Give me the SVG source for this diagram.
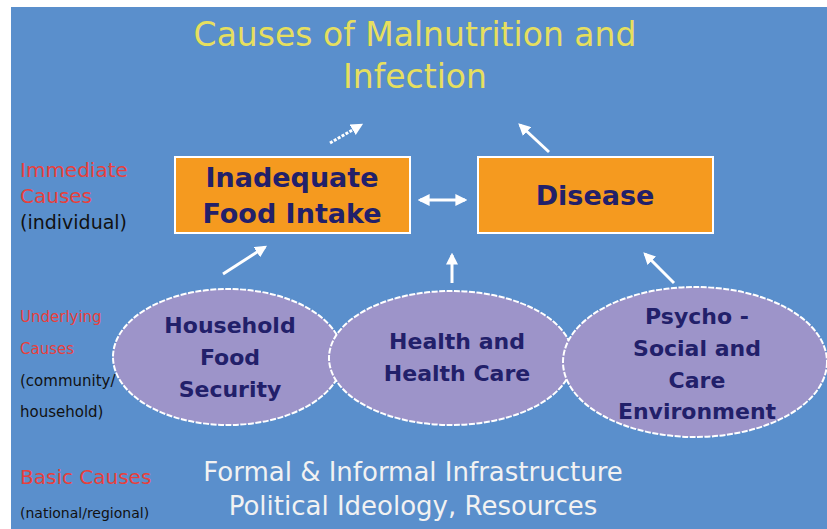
<svg xmlns="http://www.w3.org/2000/svg" width="827" height="529" viewBox="0 0 827 529">
<defs>
<style>
.title{font-family:"DejaVu Sans","Liberation Sans",sans-serif;font-size:33px;fill:#e6df5e;text-anchor:middle}
.box{fill:#f59a1f;stroke:#ffffff;stroke-width:2}
.boxt{font-family:"DejaVu Sans","Liberation Sans",sans-serif;font-weight:bold;font-size:27px;fill:#22206a;text-anchor:middle}
.ell{fill:#9d94c9;stroke:#ffffff;stroke-width:2;stroke-dasharray:6 1.5}
.ellt{font-family:"DejaVu Sans","Liberation Sans",sans-serif;font-weight:bold;font-size:22px;fill:#22206a;text-anchor:middle}
.red{font-family:"DejaVu Sans","Liberation Sans",sans-serif;fill:#e8403c}
.blk{font-family:"DejaVu Sans","Liberation Sans",sans-serif;fill:#111111}
.basic{font-family:"DejaVu Sans","Liberation Sans",sans-serif;font-size:26px;fill:#f2f2f2;text-anchor:middle}
.arr{stroke:#ffffff;stroke-width:3;fill:none}
</style>
<marker id="ah" viewBox="0 0 10 10" refX="8" refY="5" markerWidth="4" markerHeight="4" orient="auto-start-reverse">
<path d="M0,0 L10,5 L0,10 z" fill="#ffffff"/>
</marker>
</defs>
<rect x="0" y="0" width="827" height="529" fill="#ffffff"/>
<rect x="11" y="7" width="816" height="522" fill="#5a8fcc"/>
<g id="title">
<text class="title" x="415" y="46">Causes of Malnutrition and</text>
<text class="title" x="415" y="88">Infection</text>
</g>
<g id="labels">
<text class="red" x="20" y="177" font-size="20">Immediate</text>
<text class="red" x="20" y="203" font-size="20">Causes</text>
<text class="blk" x="20" y="229" font-size="19">(individual)</text>
<text class="red" x="20" y="322" font-size="15">Underlying</text>
<text class="red" x="20" y="354" font-size="15">Causes</text>
<text class="blk" x="20" y="386" font-size="15">(community/</text>
<text class="blk" x="20" y="417" font-size="15">household)</text>
<text class="red" x="20" y="484" font-size="20">Basic Causes</text>
<text class="blk" x="20" y="518" font-size="14">(national/regional)</text>
</g>
<g id="connectors">
<line class="arr" x1="330" y1="143" x2="361" y2="125" stroke-dasharray="3 1.5" marker-end="url(#ah)"/>
<line class="arr" x1="549" y1="152" x2="520" y2="125" marker-end="url(#ah)"/>
<line class="arr" x1="420" y1="200" x2="465" y2="200" marker-start="url(#ah)" marker-end="url(#ah)"/>
<line class="arr" x1="223" y1="274" x2="265" y2="247" marker-end="url(#ah)"/>
<line class="arr" x1="452" y1="283" x2="452" y2="255" marker-end="url(#ah)"/>
<line class="arr" x1="674" y1="283" x2="645" y2="254" marker-end="url(#ah)"/>
</g>
<g id="node-food-intake">
<rect class="box" x="175" y="157" width="235" height="76"/>
<text class="boxt" x="292" y="187">Inadequate</text>
<text class="boxt" x="292" y="223">Food Intake</text>
</g>
<g id="node-disease">
<rect class="box" x="478" y="157" width="235" height="76"/>
<text class="boxt" x="595" y="205">Disease</text>
</g>
<g id="node-household">
<ellipse class="ell" cx="228" cy="357" rx="115" ry="68"/>
<text class="ellt" x="230" y="333">Household</text>
<text class="ellt" x="230" y="365">Food</text>
<text class="ellt" x="230" y="397">Security</text>
</g>
<g id="node-health">
<ellipse class="ell" cx="451" cy="358" rx="122" ry="67"/>
<text class="ellt" x="457" y="349">Health and</text>
<text class="ellt" x="457" y="381">Health Care</text>
</g>
<g id="node-psycho">
<ellipse class="ell" cx="695" cy="362" rx="132" ry="75"/>
<text class="ellt" x="697" y="324">Psycho -</text>
<text class="ellt" x="697" y="356">Social and</text>
<text class="ellt" x="697" y="388">Care</text>
<text class="ellt" x="697" y="419">Environment</text>
</g>
<g id="basic">
<text class="basic" x="413" y="481">Formal &amp; Informal Infrastructure</text>
<text class="basic" x="413" y="515">Political Ideology, Resources</text>
</g>
</svg>
